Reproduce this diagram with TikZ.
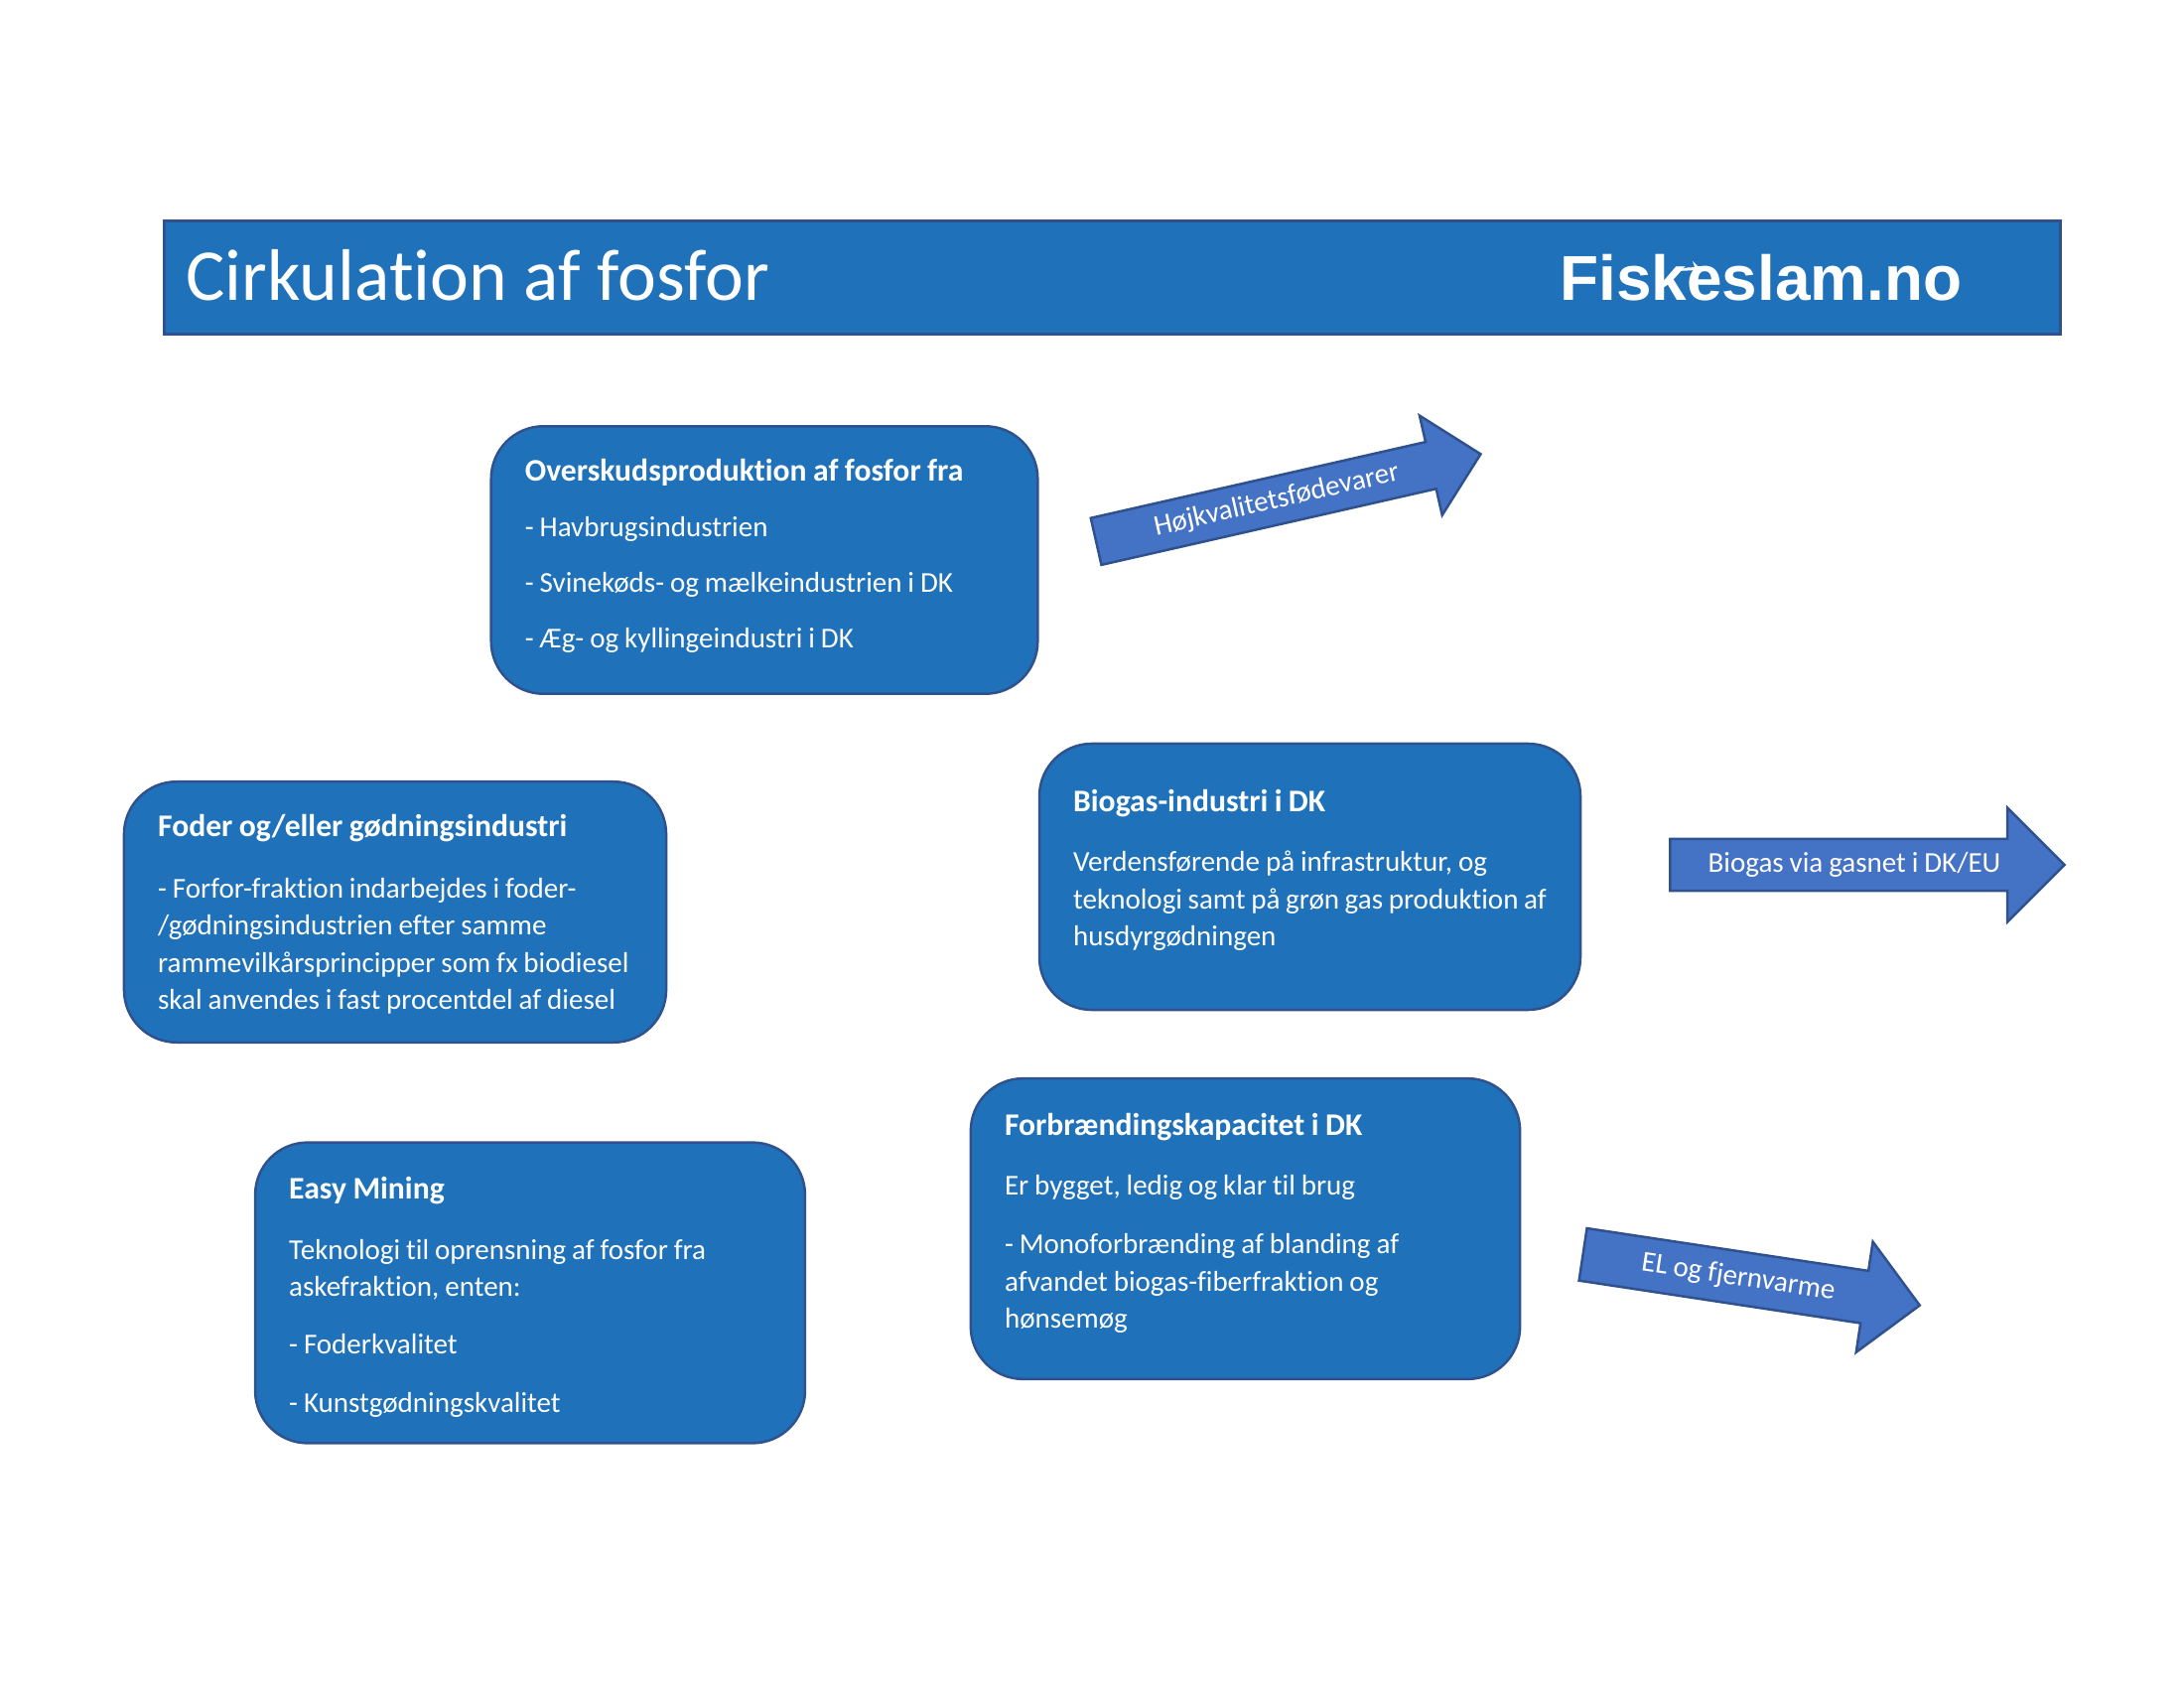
\documentclass[tikz,border=0pt]{standalone}
\usepackage{fontspec}
\setmainfont[Ligatures=NoCommon,WordSpace=.9]{Carlito}
\newfontfamily\titlefont[Ligatures=NoCommon]{Carlito}
\newfontfamily\logofont{Liberation Sans}
\usepackage{tikz}
\usetikzlibrary{shapes.arrows,positioning}
\definecolor{boxblue}{HTML}{1F71B9}
\definecolor{arrowblue}{HTML}{4472C4}
\definecolor{edgeblue}{HTML}{2F528F}
\newcommand{\boxhead}[1]{\textbf{\fontsize{11.4}{13.5}\selectfont #1}}
\begin{document}
\begin{tikzpicture}[x=.36pt,y=-.36pt,
			infobox/.style={draw=edgeblue,fill=boxblue,line width=.9pt,rounded corners=19pt,text=white,align=flush left,
				font=\fontsize{10.45}{13.5}\selectfont,inner xsep=12.3pt,inner ysep=0pt},
			titlebar/.style={draw=edgeblue,fill=boxblue,line width=.9pt,minimum width=687.5pt,minimum height=41pt,inner sep=0pt},
			flowarrow/.style={single arrow,draw=edgeblue,fill=arrowblue,line width=.9pt,text=white,inner sep=0pt,
				font=\fontsize{10.45}{13.5}\selectfont,single arrow tip angle=90}]
	\useasboundingbox (0,0) rectangle (2200,1700);

	\node [titlebar] (header) at (1120.5,279.5) {};
	\node [anchor=base west,text=white,inner sep=0pt,font=\titlefont\fontsize{26.5}{30}\selectfont] (headertext) at (187,303) {Cirkulation af fosfor};
	\node [anchor=base west,text=white,inner sep=0pt,font=\logofont\bfseries\fontsize{23}{26}\selectfont] (logo) at (1571,303) {Fiskeslam.no};
	\fill [white] (1692,273) .. controls (1698,268) and (1702,270) .. (1707,269) -- (1705,263) -- (1710,268) -- (1722,270) -- (1708,272) .. controls (1703,273) and (1698,272) .. cycle;

	\node [infobox,text width=173.6pt,minimum height=97pt] (surplus) at (770,564) {\boxhead{Overskudsproduktion af fosfor fra}\\[6.7pt]
		- Havbrugsindustrien\\[6.7pt]
		- Svinekøds- og mælkeindustrien i DK\\[6.7pt]
		- Æg- og kyllingeindustri i DK\\[-8.9pt]\mbox{}};

	\node [infobox,text width=172pt,minimum height=94.5pt] (feed) at (398,918.5) {\rule{0pt}{9.7pt}\boxhead{Foder og/eller gødningsindustri}\\[8.6pt]
		- Forfor-fraktion indarbejdes i foder-\\
		/gødningsindustrien efter samme\\
		rammevilkårsprincipper som fx biodiesel\\
		skal anvendes i fast procentdel af diesel};

	\node [infobox,text width=171.6pt,minimum height=96.5pt] (biogas) at (1319.5,883) {\boxhead{Biogas-industri i DK}\\[8.4pt]
		Verdensførende på infrastruktur, og\\
		teknologi samt på grøn gas produktion af\\
		husdyrgødningen\\[-6.9pt]\mbox{}};

	\node [infobox,text width=174.6pt,minimum height=109pt] (burning) at (1254.5,1237.5) {\boxhead{Forbrændingskapacitet i DK}\\[8.4pt]
		Er bygget, ledig og klar til brug\\[7.6pt]
		- Monoforbrænding af blanding af\\
		afvandet biogas-fiberfraktion og\\
		hønsemøg\\[-7.5pt]\mbox{}};

	\node [infobox,text width=174.8pt,minimum height=109pt] (mining) at (534,1302) {\rule{0pt}{11pt}\boxhead{Easy Mining}\\[8.4pt]
		Teknologi til oprensning af fosfor fra\\
		askefraktion, enten:\\[7.4pt]
		- Foderkvalitet\\[7.4pt]
		- Kunstgødningskvalitet};

	\node [flowarrow,rotate=12.8,minimum width=37pt,minimum height=143pt,single arrow head extend=5.6pt] (food) at (1286,504) {Højkvalitetsfødevarer};
	\node [flowarrow,minimum width=41.5pt,minimum height=143pt,single arrow head extend=6pt] (gas) at (1868,871) {Biogas via gasnet i DK/EU};
	\node [flowarrow,rotate=-8.6,minimum width=40.5pt,minimum height=123.5pt,single arrow head extend=5.5pt] (power) at (1751,1287) {EL og fjernvarme};
\end{tikzpicture}
\end{document}
